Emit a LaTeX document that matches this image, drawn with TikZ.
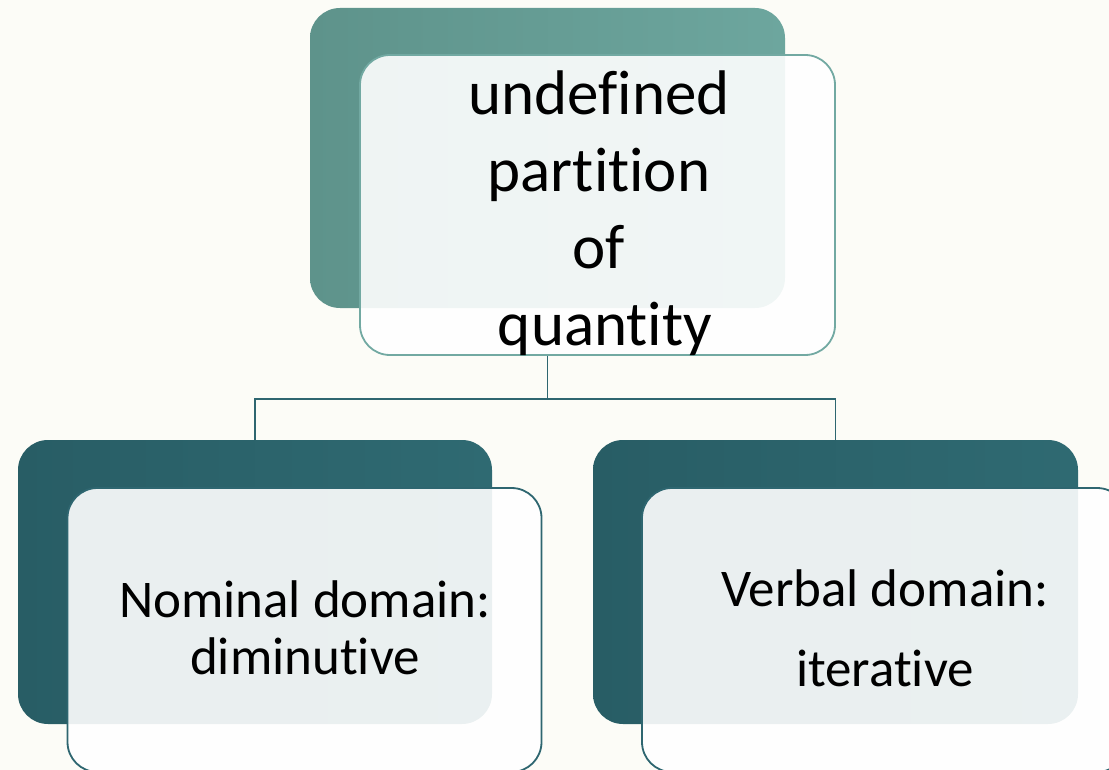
\documentclass[tikz,border=0pt]{standalone}
\usepackage{fontspec}
\setmainfont{Carlito}[Ligatures=NoCommon]
\usetikzlibrary{positioning,calc}
\definecolor{pagebg}{HTML}{FCFCF7}
\definecolor{tealtopL}{HTML}{5E938B}
\definecolor{tealtopR}{HTML}{6DA69E}
\definecolor{tealtopline}{HTML}{72A9A2}
\definecolor{tealdarkL}{HTML}{285D65}
\definecolor{tealdarkR}{HTML}{2F6A72}
\definecolor{tealdarkline}{HTML}{2E6670}
\tikzset{
    every node/.style={font=\small},
    backtop/.style={rectangle, rounded corners=30pt, minimum width=475pt, minimum height=300pt, inner sep=0pt, left color=tealtopL, right color=tealtopR},
    backbot/.style={rectangle, rounded corners=30pt, minimum height=284pt, inner sep=0pt, left color=tealdarkL, right color=tealdarkR},
    fronttop/.style={rectangle, rounded corners=30pt, minimum width=475pt, minimum height=300pt, inner sep=0pt, draw=tealtopline, line width=1.8pt, fill=white, fill opacity=0.9},
    frontbot/.style={rectangle, rounded corners=30pt, minimum height=284pt, inner sep=0pt, draw=tealdarkline, line width=1.8pt, fill=white, fill opacity=0.9},
    bigtext/.style={align=center, font=\fontsize{63}{77}\selectfont},
    midtext/.style={align=center, font=\fontsize{53}{57}\selectfont},
    link/.style={draw=tealdarkline, line width=1.8pt},
}
\begin{document}
\begin{tikzpicture}[x=1pt, y=-1pt]
  % page area
  \fill[pagebg] (0,0) rectangle (1109,770);
  \useasboundingbox (0,0) rectangle (1109,770);
  % top pair
  \node[backtop] (topback) at (547.5,158) {};
  \node[fronttop] (topfront) at (597.5,205) {};
  \node[bigtext] (toptext) at (599,213) {undefined\\partition\\of\\\hspace*{12pt}quantity};
  % bottom pairs
  \node[backbot, minimum width=474pt] (leftback) at (255,582) {};
  \node[frontbot, minimum width=474pt] (leftfront) at (304.5,630) {};
  \node[midtext] (lefttext) at (305,628) {Nominal domain:\\diminutive};
  \node[backbot, minimum width=485pt] (rightback) at (835.5,582) {};
  \node[frontbot, minimum width=485pt] (rightfront) at (884.5,630) {};
  \node[midtext, font=\fontsize{53}{80}\selectfont] (righttext) at (885,628) {Verbal domain:\\iterative};
  % tree lines
  \coordinate (fork) at ($(topback.south |- topfront.south) + (0,43)$);
  \draw[link] (topback.south |- topfront.south) -- (fork);
  \draw[link] (fork) -| (leftback.north);
  \draw[link] (fork) -| (rightback.north);
\end{tikzpicture}
\end{document}
